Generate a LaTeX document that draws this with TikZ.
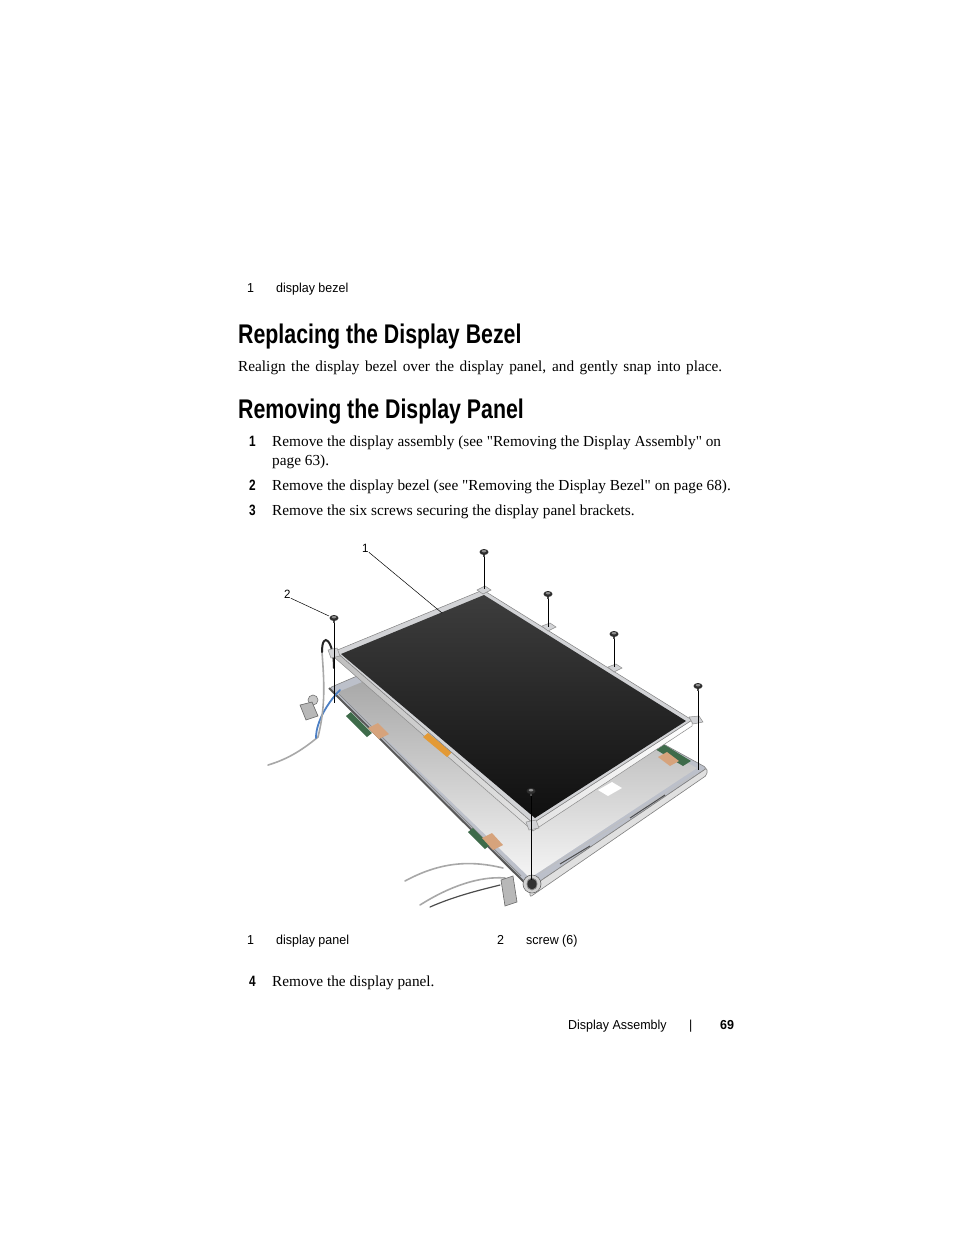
\documentclass[tikz,border=0pt]{standalone}
\usepackage{fontspec}
\setmainfont[Ligatures=TeXOff]{Liberation Serif}
\newfontfamily\headfont[FakeStretch=0.79]{Liberation Sans}
\newfontfamily\labelfont[FakeStretch=0.96]{Liberation Sans}
\usetikzlibrary{positioning}

\definecolor{panelframe}{HTML}{D2D3D6}
\definecolor{traysilver}{HTML}{BCC0CA}
\definecolor{pcbgreen}{HTML}{3E6B4A}
\definecolor{coppertape}{HTML}{D6A37C}
\definecolor{flexorange}{HTML}{E39A36}
\definecolor{cableblue}{HTML}{4C7FC4}
\definecolor{cablegray}{HTML}{A8A8A8}

\tikzset{
  heading/.style={anchor=base west, inner sep=0pt, font=\headfont\bfseries\fontsize{27}{30}\selectfont},
  body/.style={anchor=base west, inner sep=0pt, font=\fontsize{15.3}{19}\selectfont},
  stepnum/.style={anchor=base west, inner sep=0pt, font=\headfont\bfseries\fontsize{15}{19}\selectfont},
  callout/.style={anchor=base west, inner sep=0pt, font=\labelfont\fontsize{13}{15}\selectfont},
  leader/.style={draw=black, line width=0.5pt},
  screwline/.style={draw=black, line width=0.7pt},
  cable/.style={draw=cablegray, line width=1.6pt, line cap=round},
  tab/.style={fill=panelframe, draw=black!45, line width=0.5pt},
}

\begin{document}
\begin{tikzpicture}[x=1pt,y=-1pt]
\useasboundingbox (0,0) rectangle (954,1235);
\fill[white] (0,0) rectangle (954,1235);

% Caption of the previous figure
\node[callout] (topnum) at (247,292) {1};
\node[callout] (toptext) at (276,292) {display bezel};

% Replacing section
\node[heading] (headrep) at (238,343) {Replacing the Display Bezel};
\node[body] (realign) at (238,371) {\makebox[484pt][s]{Realign the display bezel over the display panel, and gently snap into place.}};

% Removing section
\node[heading] (headrem) at (238,418) {Removing the Display Panel};
\node[stepnum] (num1) at (249,446) {1};
\node[body] (step1) at (272,446) {Remove the display assembly (see "Removing the Display Assembly" on};
\node[body] (step1b) at (272,465) {page 63).};
\node[stepnum] (num2) at (249,490) {2};
\node[body] (step2) at (272,490) {Remove the display bezel (see "Removing the Display Bezel" on page 68).};
\node[stepnum] (num3) at (249,515) {3};
\node[body] (step3) at (272,515) {Remove the six screws securing the display panel brackets.};

% Panel and tray corners
\coordinate (pl) at (335,651);
\coordinate (pt) at (483,590);
\coordinate (pr) at (692,720);
\coordinate (pb) at (533,823);
\coordinate (tl) at (329,688);
\coordinate (tt) at (460,632);
\coordinate (tr) at (707,768);
\coordinate (tb) at (530,888);

% Cables behind the tray
\draw[cable] (318,737) .. controls (300,752) and (285,760) .. (268,765);
\draw[cable] (503,868) .. controls (470,860) and (440,862) .. (405,881);
\draw[cable] (505,878) .. controls (480,876) and (450,886) .. (420,905);
\draw[cable, draw=black!70, line width=1.2pt] (500,885) .. controls (480,890) and (455,896) .. (430,907);

% Back cover tray
\filldraw[fill=traysilver, draw=black!50, line width=0.6pt, rounded corners=3pt] (tl) -- (tt) -- (tr) -- (tb) -- cycle;
\filldraw[fill=black!12, draw=black!50, line width=0.6pt, rounded corners=2pt] (tb) -- (tr) -- ++(0,7) -- (530,897) -- cycle;
\shade[top color=black!40, bottom color=black!4] (338,692) -- (462,641) -- (697,768) -- (530,878) -- cycle;
\draw[black!65, line width=2pt] (tl) -- (tb);
\draw[black!45, line width=1pt] (339,694) -- (521,876);
\draw[black!25, line width=0.6pt] (540,873) -- (694,775);
\draw[black!70, line width=1pt] (560,864) -- (590,846);
\draw[black!70, line width=1pt] (630,818) -- (665,795);

% Boards and tape inside the tray
\fill[pcbgreen] (346,716) -- (351,712) -- (372,733) -- (367,737) -- cycle;
\fill[coppertape] (368,728) -- (378,723) -- (389,734) -- (379,739) -- cycle;
\fill[pcbgreen] (468,832) -- (473,828) -- (490,845) -- (485,849) -- cycle;
\fill[coppertape] (482,838) -- (492,833) -- (503,845) -- (493,850) -- cycle;
\fill[pcbgreen] (655,749) -- (663,744) -- (691,761) -- (683,766) -- cycle;
\fill[coppertape] (658,757) -- (667,752) -- (679,761) -- (670,766) -- cycle;
\fill[white] (598,790) -- (612,782) -- (622,788) -- (608,796) -- cycle;

% Hinges
\filldraw[fill=black!22, draw=black!55, line width=0.6pt] (313,700) circle [radius=5];
\filldraw[fill=black!28, draw=black!60, line width=0.6pt] (300,705) -- (312,702) -- (318,716) -- (306,720) -- cycle;
\filldraw[fill=black!28, draw=black!60, line width=0.6pt] (501,880) -- (513,876) -- (517,902) -- (505,906) -- cycle;
\filldraw[fill=black!18, draw=black!60, line width=0.6pt] (532,884) circle [radius=9];
\filldraw[fill=black!80, draw=black!45, line width=0.8pt] (532,884) ellipse [x radius=5, y radius=6];

% Cables in front at left
\draw[cable, draw=cableblue, line width=1.8pt] (316,738) .. controls (316,720) and (330,700) .. (340,690);
\draw[cable] (322,652) .. controls (324,680) and (326,705) .. (318,737);
\draw[cable, draw=black!85, line width=2pt] (334,668) .. controls (334,640) and (322,630) .. (322,652);

% Display panel
\shade[left color=black!25, right color=white, draw=black!45, line width=0.5pt] (pl) -- (pb) -- (pr) -- (692,726) -- (533,831) -- (335,658) -- cycle;
\fill[flexorange] (423,737) -- (428,733) -- (452,752) -- (447,757) -- cycle;
\filldraw[fill=panelframe, draw=black!50, line width=0.5pt] (pl) -- (pt) -- (pr) -- (pb) -- cycle;
\shade[top color=black!76, bottom color=black!94] (341,654) -- (484,595) -- (686,721) -- (535,818) -- cycle;

% Brackets
\filldraw[tab] (477,590) -- (485,586) -- (491,590) -- (483,594) -- cycle;
\filldraw[tab] (542,626) -- (550,623) -- (556,627) -- (548,631) -- cycle;
\filldraw[tab] (608,667) -- (616,664) -- (622,668) -- (614,672) -- cycle;
\filldraw[tab] (689,717) -- (699,716) -- (703,722) -- (693,724) -- cycle;
\filldraw[tab] (328,650) -- (337,648) -- (340,656) -- (331,658) -- cycle;
\filldraw[tab] (526,822) -- (536,820) -- (539,828) -- (529,830) -- cycle;

% Screws
\foreach \i/\sx/\sy/\hy in {1/484/552/589, 2/548/594/627, 3/614/634/667, 4/698/686/770, 5/531/791/880, 6/334/618/703} {
  \coordinate (s\i) at (\sx,\sy);
  \coordinate (h\i) at (\sx,\hy);
  \draw[screwline] (s\i) -- (h\i);
  \fill[black!70] (s\i) ++(-1.3,1) rectangle ++(2.6,4);
  \fill[black!82] (s\i) ellipse [x radius=4.5, y radius=3];
  \fill[black!45] (s\i) ++(0,-0.8) ellipse [x radius=2.4, y radius=1.2];
}

% Callouts
\node[callout, font=\labelfont\fontsize{12}{14}\selectfont] (lab1) at (362,552) {1};
\node[callout, font=\labelfont\fontsize{12}{14}\selectfont] (lab2) at (284,598) {2};
\coordinate (pnl) at (442,613);
\draw[leader] (lab1.south east) -- (pnl);
\draw[leader] (lab2.south east) -- (329,616);

% Figure legend
\node[callout] (leg1n) at (247,944) {1};
\node[callout] (leg1t) at (276,944) {display panel};
\node[callout] (leg2n) at (497,944) {2};
\node[callout] (leg2t) at (526,944) {screw (6)};

% Last step
\node[stepnum] (num4) at (249,986) {4};
\node[body] (step4) at (272,986) {Remove the display panel.};

% Footer
\node[callout] (foot) at (568,1029) {Display Assembly};
\node[callout] (footbar) at (689,1029) {|};
\node[callout, font=\labelfont\bfseries\fontsize{13}{15}\selectfont] (pagenum) at (720,1029) {69};
\end{tikzpicture}
\end{document}
